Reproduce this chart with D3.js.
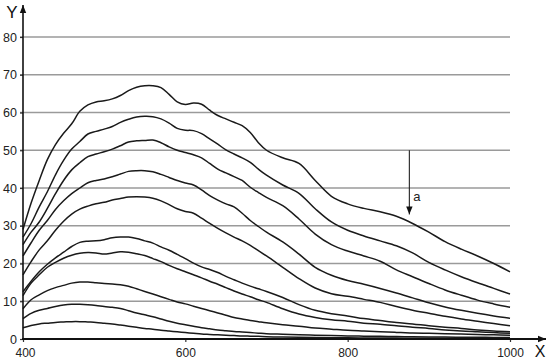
<!DOCTYPE html>
<html><head><meta charset="utf-8">
<script src="https://cdn.jsdelivr.net/npm/d3@7"></script>
<style>html,body{margin:0;padding:0;background:#fff;}svg{display:block;}</style>
</head><body>
<svg id="chart" width="550" height="361"></svg>
<script>
const wavelengths = [400,410,420,430,440,450,460,470,480,490,500,510,520,530,540,550,560,570,580,590,600,610,620,630,640,650,660,670,680,690,700,720,740,760,780,800,820,840,860,880,900,920,940,960,980,1000];
const curve1 = [29,36,42,47.5,51.5,54.5,57,60.3,62,62.8,63.1,63.6,64.5,65.8,66.7,67.1,67.1,66.6,64.8,62.8,62.1,62.5,62.2,60.6,59.2,58.3,57.4,56.5,54.7,52,50,48,46.5,42,37.8,35.8,34.6,33.7,32.5,30.6,28.3,25.8,23.8,22,20,17.8];
const curve2 = [27,30.6,35,39,43.5,47.3,50.3,52.3,54.3,55,55.6,56.3,57.4,58.2,58.8,59,58.9,58.3,57.2,55.8,55.3,55.2,54.4,53,51.6,50.1,49,48,46.8,45,43.4,40.8,38.6,34.5,31,28.8,27.3,26,24.7,22.8,20.3,18.3,16.5,14.9,13.4,11.9];
const curve3 = [25,28.3,31,34.6,38.5,42,44.8,46.7,48.3,49,49.6,50.3,51.2,52.2,52.5,52.6,52.7,52,50.9,50,49.4,48.8,48,46.5,45,44,43,42,40.2,38.8,37.5,35.3,31.8,27.8,25,23.3,22,20.6,18.3,16.5,14.7,13,11.6,10.3,9.3,8.4];
const curve4 = [22,25.5,28.8,31.4,34.3,36.6,38.5,40,41.4,42,42.4,43,43.7,44.4,44.6,44.6,44.3,43.6,42.8,42,41.3,40.8,39.5,38,36.8,35.8,35,33.3,31.4,29.8,28.3,25.7,22.5,19,16.9,15.5,14.5,13.4,12.2,10.9,9.6,8.5,7.6,6.8,6.1,5.5];
const curve5 = [17,20.5,23.6,26,28.8,31.2,33.1,34.4,35.2,35.8,36.2,36.8,37.2,37.6,37.7,37.6,37.3,36.6,35.6,34.5,33.8,33.3,32,30.6,29.3,28.1,27,26,24.8,23.4,22,19,16,13.5,12,11.3,10.5,9.7,8.6,7.6,6.8,6,5.3,4.7,4.1,3.5];
const curve6 = [12.5,15.3,17.8,19.8,21.5,23,24.5,25.6,25.9,26,26.3,26.8,27,27,26.6,26,25.4,24.4,23.5,22.4,21.3,20.1,19.1,18.4,17.6,16.6,15.7,14.8,14,13.3,12.6,11,9.1,7.6,6.7,6.1,5.4,4.9,4.4,4,3.5,3.1,2.8,2.4,2.1,1.9];
const curve7 = [11.5,14.8,17,19,20.3,21.4,22.2,22.7,22.9,22.8,22.5,22.8,23.1,23,22.6,22.1,21.3,20.5,19.5,18.6,17.8,17,16.2,15.3,14.5,13.6,12.7,11.9,11.2,10.4,9.7,8,6.6,5.7,5.1,4.7,4.2,3.9,3.5,3.1,2.8,2.4,2.1,1.9,1.7,1.5];
const curve8 = [8,10.4,11.7,12.8,13.6,14.2,14.8,15.1,15.1,14.9,14.7,14.6,14.4,14,13.3,12.6,11.9,11.2,10.5,9.8,9.3,8.7,8.1,7.5,6.9,6.3,5.7,5.3,4.9,4.6,4.3,3.8,3.4,2.9,2.6,2.3,2.1,1.9,1.75,1.6,1.5,1.4,1.3,1.2,1.1,1.0];
const curve9 = [5.4,6.8,7.6,8.1,8.6,9,9.2,9.2,9.1,8.9,8.6,8.4,8.1,7.5,6.9,6.4,5.9,5.3,4.7,4.2,3.8,3.4,3,2.7,2.4,2.2,2,1.85,1.7,1.55,1.4,1.25,1.1,1,0.9,0.8,0.75,0.7,0.65,0.6,0.55,0.5,0.48,0.45,0.42,0.4];
const curve10 = [3,3.6,4,4.2,4.4,4.5,4.6,4.6,4.5,4.4,4.2,4,3.7,3.4,3.1,2.8,2.6,2.3,2.1,1.9,1.7,1.5,1.3,1.2,1.1,1,0.9,0.8,0.75,0.7,0.6,0.5,0.45,0.4,0.35,0.3,0.28,0.26,0.24,0.22,0.2,0.19,0.18,0.17,0.16,0.15];
const seriesList = [curve1,curve2,curve3,curve4,curve5,curve6,curve7,curve8,curve9,curve10];
const yTicks = [0,10,20,30,40,50,60,70,80];
const xTicks = [400,600,800,1000];
const arrowX = 876, arrowFrom = 50, arrowTo = 33, arrowLabel = "a";

const svg = d3.select("#chart");
const FONT = "'Liberation Sans', Arial, sans-serif";
const x = d3.scaleLinear().domain([400,1000]).range([23,510]);
const y = d3.scaleLinear().domain([0,80]).range([339,37]);

// gridlines
svg.append("g").selectAll("line").data(yTicks.filter(d=>d>0)).join("line")
  .attr("x1", x(400)-3).attr("x2", x(1000))
  .attr("y1", d=>y(d)).attr("y2", d=>y(d))
  .attr("stroke", "#9a9a9a").attr("stroke-width", 1.6);

// y axis labels and ticks
const yAxis = d3.axisLeft(y).tickValues(yTicks).tickSize(3).tickPadding(3);
const gy = svg.append("g").attr("transform", `translate(${x(400)},0)`).call(yAxis);
gy.select(".domain").remove();
gy.selectAll(".tick line").attr("stroke", "#333").attr("stroke-width", 1.2);
gy.selectAll("text").attr("font-family", FONT).attr("font-size", 12.5).attr("fill", "#222");

// x axis labels and ticks
const xAxis = d3.axisBottom(x).tickValues(xTicks).tickFormat(d3.format("d")).tickSize(3).tickPadding(6);
const gx = svg.append("g").attr("transform", `translate(0,${y(0)})`).call(xAxis);
gx.select(".domain").remove();
gx.selectAll(".tick line").attr("stroke", "#333").attr("stroke-width", 1.2);
gx.selectAll("text").attr("font-family", FONT).attr("font-size", 12).attr("fill", "#222");
gx.selectAll(".tick").filter(d=>d===400).select("text").attr("dx", 2);

// curves
const line = d3.line().x((d,i)=>x(wavelengths[i])).y(d=>y(d)).curve(d3.curveCatmullRom.alpha(0.5));
svg.append("g").selectAll("path").data(seriesList).join("path")
  .attr("d", d=>line(d)).attr("fill","none").attr("stroke","#1a1a1a").attr("stroke-width",1.5);

// axes with arrows
const defs = svg.append("defs");
defs.append("marker").attr("id","ah").attr("viewBox","0 0 10 10").attr("refX",10).attr("refY",5)
  .attr("markerWidth",8).attr("markerHeight",8).attr("markerUnits","userSpaceOnUse").attr("orient","auto")
  .append("path").attr("d","M0,1 L10,5 L0,9 Z").attr("fill","#111");
svg.append("line").attr("x1", x(400)).attr("x2", x(400)).attr("y1", y(0)+1).attr("y2", 5)
  .attr("stroke","#111").attr("stroke-width",1.6).attr("marker-end","url(#ah)");
svg.append("line").attr("x1", x(400)-1).attr("x2", 546).attr("y1", y(0)).attr("y2", y(0))
  .attr("stroke","#111").attr("stroke-width",1.8).attr("marker-end","url(#ah)");
svg.append("text").attr("x", 12).attr("y", 18).attr("text-anchor","middle")
  .attr("font-family",FONT).attr("font-size",17).attr("fill","#111").text("Y");
svg.append("text").attr("x", 540).attr("y", 357).attr("text-anchor","middle")
  .attr("font-family",FONT).attr("font-size",16).attr("fill","#111").text("X");

// annotation arrow "a"
svg.append("line").attr("x1", x(arrowX)).attr("x2", x(arrowX)).attr("y1", y(arrowFrom)).attr("y2", y(arrowTo))
  .attr("stroke","#222").attr("stroke-width",1.1).attr("marker-end","url(#ah)");
svg.append("text").attr("x", x(arrowX)+4).attr("y", y(arrowFrom)+51)
  .attr("font-family",FONT).attr("font-size",13).attr("fill","#222").text(arrowLabel);
</script>
</body></html>
